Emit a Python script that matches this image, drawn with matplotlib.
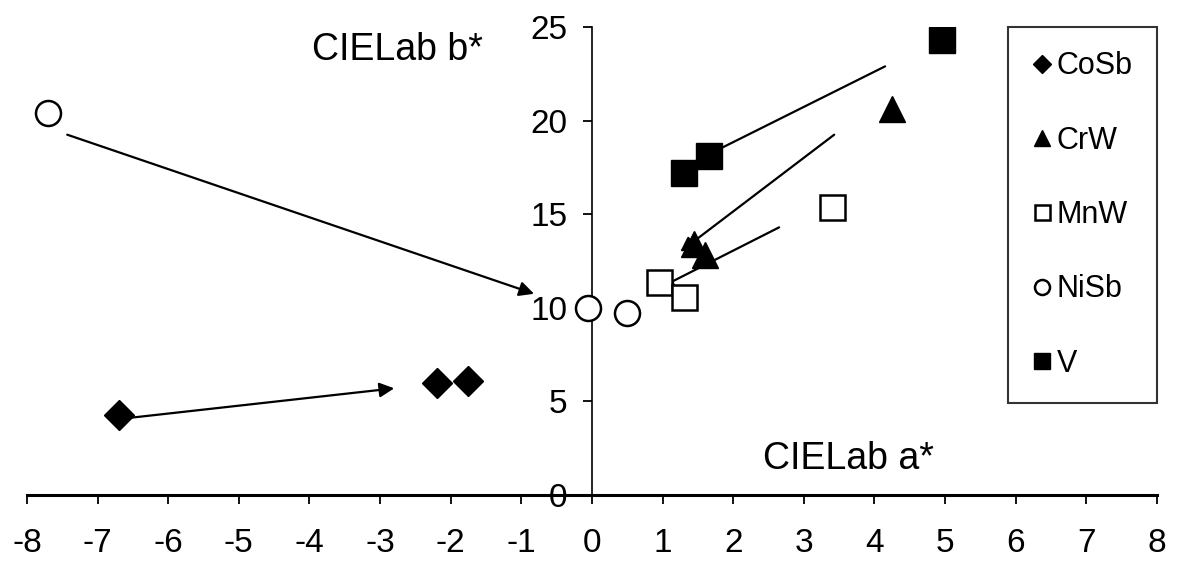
import matplotlib
matplotlib.use("Agg")
import matplotlib.pyplot as plt

# CIELab a*, b* values per pigment series
cosb_a = [-6.7, -2.2, -1.75]
cosb_b = [4.3, 6.0, 6.1]
crw_a = [4.25, 1.45, 1.6]
crw_b = [20.6, 13.4, 12.8]
mnw_a = [3.4, 0.95, 1.3]
mnw_b = [15.4, 11.4, 10.6]
nisb_a = [-7.7, -0.05, 0.5]
nisb_b = [20.4, 10.0, 9.7]
v_a = [4.95, 1.3, 1.65]
v_b = [24.3, 17.2, 18.1]

# arrows: (a_start, b_start, a_end, b_end)
arrows = [
    (-7.43, 19.25, -0.82, 10.75),
    (-6.6, 4.1, -2.8, 5.7),
    (4.15, 22.9, 1.6, 18.1),
    (3.43, 19.25, 1.25, 13.0),
    (2.65, 14.3, 0.95, 11.05),
]

plt.rcParams['font.family'] = ['Liberation Sans', 'DejaVu Sans']
plt.rcParams['axes.unicode_minus'] = False

fig = plt.figure(figsize=(11.83, 5.66), dpi=100)
ax = fig.add_axes([0.0228, 0.1254, 0.9552, 0.8268])

for a0, b0, a1, b1 in arrows:
    ax.annotate('', xy=(a1, b1), xytext=(a0, b0),
                arrowprops=dict(arrowstyle='-|>', color='black', lw=1.6,
                                mutation_scale=22, shrinkA=0, shrinkB=0),
                zorder=1)

ax.plot(cosb_a, cosb_b, 'D', ms=15, color='black', label='CoSb', zorder=3)
ax.plot(crw_a, crw_b, '^', ms=19, color='black', label='CrW', zorder=3)
ax.plot(mnw_a, mnw_b, 's', ms=18, mfc='white', mec='black', mew=1.8, label='MnW', zorder=3)
ax.plot(nisb_a, nisb_b, 'o', ms=18, mfc='white', mec='black', mew=1.8, label='NiSb', zorder=3)
ax.plot(v_a, v_b, 's', ms=19, color='black', label='V', zorder=3)

ax.set_xlim(-8, 8)
ax.set_ylim(0, 25)
ax.set_xticks(range(-8, 9))
ax.set_yticks(range(0, 26, 5))

ax.spines['left'].set_position(('data', 0))
ax.spines['top'].set_visible(False)
ax.spines['right'].set_visible(False)
ax.spines['left'].set_linewidth(1.2)
ax.spines['bottom'].set_linewidth(2.2)
ax.tick_params(axis='both', direction='out', length=6.5, width=1.3,
               labelsize=24)
ax.tick_params(axis='x', pad=17)
ax.tick_params(axis='y', pad=11)

ax.text(-2.76, 23.75, 'CIELab b*', fontsize=27, ha='center', va='center')
ax.text(3.63, 1.95, 'CIELab a*', fontsize=27, ha='center', va='center')

leg = fig.legend(loc='upper left', bbox_to_anchor=(1008 / 1183, 1 - 27 / 566),
                 fontsize=22, frameon=True, fancybox=False, edgecolor='black',
                 handlelength=0.6, handletextpad=0.2, labelspacing=1.45,
                 borderpad=0.8, markerscale=0.6, borderaxespad=0)
leg.get_frame().set_linewidth(1.5)

fig.savefig('out.png', dpi=100)
